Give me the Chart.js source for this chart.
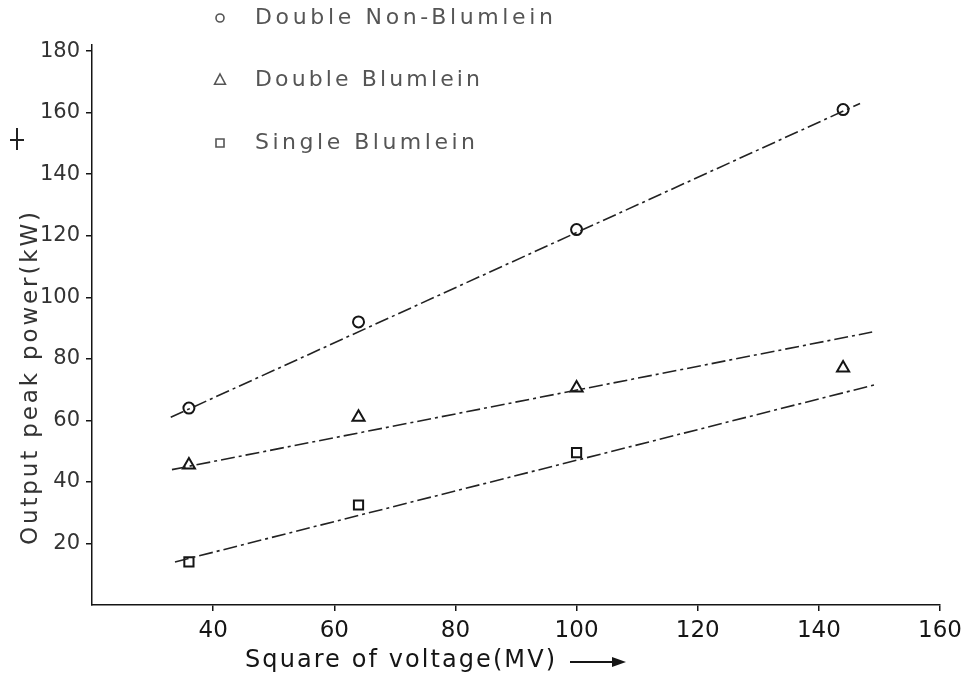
<!DOCTYPE html>
<html>
<head>
<meta charset="utf-8">
<script src="https://cdn.jsdelivr.net/npm/chart.js@4.4.1/dist/chart.umd.min.js"></script>
<style>
  html, body { margin: 0; padding: 0; background: #fff; }
  #wrap { width: 970px; height: 682px; position: relative; }
</style>
</head>
<body>
<div id="wrap"><canvas id="c"></canvas></div>
<script>
// ---- data ----
const seriesNames = ['Double Non-Blumlein', 'Double Blumlein', 'Single Blumlein'];
const voltageSq = [36, 64, 100, 144];
const doubleNonBlumlein = [64, 92, 122, 161];
const doubleBlumlein = [45.5, 61, 70.5, 77];
const voltageSqSingle = [36, 64, 100];
const singleBlumlein = [14, 32.5, 49.5];

// fitted (dash-dot) lines: end points
const fitNonX = [33, 146.8];
const fitNonY = [61, 163];
const fitDoubleX = [33.2, 148.8];
const fitDoubleY = [44, 88.7];
const fitSingleX = [33.7, 149.1];
const fitSingleY = [14, 71.5];

const xTicks = [40, 60, 80, 100, 120, 140, 160];
const yTicks = [20, 40, 60, 80, 100, 120, 140, 160, 180];

const xTitle = 'Square of voltage(MV)';
const yTitle = 'Output peak power(kW)';

// ---- helpers ----
const pts = (xs, ys) => xs.map((x, i) => ({ x: x, y: ys[i] }));
const INK = '#151515';
const FONT = 'DejaVu Sans';

function fitText(ctx, text, x, y, width) {
  ctx.letterSpacing = '0px';
  const w = ctx.measureText(text).width;
  const ls = Math.max(0, (width - w) / (text.length - 1));
  ctx.letterSpacing = ls + 'px';
  ctx.fillText(text, x, y);
  ctx.letterSpacing = '0px';
}

function drawSymbol(ctx, style, x, y, r) {
  ctx.beginPath();
  if (style === 'circle') {
    ctx.arc(x, y, r, 0, Math.PI * 2);
  } else if (style === 'triangle') {
    ctx.moveTo(x, y - r);
    ctx.lineTo(x + r * 0.9, y + r * 0.7);
    ctx.lineTo(x - r * 0.9, y + r * 0.7);
    ctx.closePath();
  } else {
    ctx.rect(x - r, y - r, 2 * r, 2 * r);
  }
  ctx.stroke();
}

const overlay = {
  id: 'overlay',
  afterDraw(chart) {
    const ctx = chart.ctx;
    ctx.save();
    // legend (drawn from the series datasets)
    const rows = [18, 80, 143];
    const widths = [298, 225, 220];
    const series = chart.data.datasets.filter(d => d.isSeries);
    ctx.font = '22px ' + FONT;
    ctx.textAlign = 'left';
    ctx.textBaseline = 'middle';
    series.forEach((d, i) => {
      ctx.strokeStyle = '#555';
      ctx.lineWidth = 1.6;
      drawSymbol(ctx, d.pointStyle, 220, rows[i], d.pointStyle === 'triangle' ? 6 : 4);
      ctx.fillStyle = '#555';
      fitText(ctx, d.label, 255, rows[i], widths[i]);
    });

    // x axis title with arrow
    ctx.fillStyle = INK;
    ctx.font = '24px ' + FONT;
    ctx.textBaseline = 'middle';
    fitText(ctx, xTitle, 245, 661, 310);
    ctx.strokeStyle = INK;
    ctx.lineWidth = 2;
    ctx.beginPath();
    ctx.moveTo(570, 662); ctx.lineTo(622, 662); ctx.stroke();
    ctx.beginPath();
    ctx.moveTo(626, 662); ctx.lineTo(612, 657); ctx.lineTo(612, 667); ctx.closePath();
    ctx.fillStyle = INK; ctx.fill();

    // y axis title (rotated)
    ctx.save();
    ctx.translate(31, 545);
    ctx.rotate(-Math.PI / 2);
    ctx.fillStyle = '#333';
    ctx.font = '23px ' + FONT;
    fitText(ctx, yTitle, 0, 0, 333);
    ctx.restore();
    // y arrow head
    ctx.strokeStyle = '#222';
    ctx.lineWidth = 2;
    ctx.beginPath();
    ctx.moveTo(17, 128); ctx.lineTo(17, 150); ctx.stroke();
    ctx.beginPath();
    ctx.moveTo(10, 140); ctx.lineTo(24, 140); ctx.stroke();
    ctx.restore();
  }
};

const fitStyle = {
  showLine: true, pointRadius: 0, borderColor: '#222', borderWidth: 1.6,
  borderDash: [14, 4, 3, 4], fill: false
};
const markerStyle = {
  showLine: false, isSeries: true, borderColor: INK, backgroundColor: 'rgba(0,0,0,0)',
  borderWidth: 2
};

new Chart(document.getElementById('c'), {
  type: 'scatter',
  data: {
    datasets: [
      Object.assign({ label: 'fit1', data: pts(fitNonX, fitNonY) }, fitStyle),
      Object.assign({ label: 'fit2', data: pts(fitDoubleX, fitDoubleY) }, fitStyle),
      Object.assign({ label: 'fit3', data: pts(fitSingleX, fitSingleY) }, fitStyle),
      Object.assign({ label: seriesNames[0], data: pts(voltageSq, doubleNonBlumlein),
        pointStyle: 'circle', pointRadius: 5.5 }, markerStyle),
      Object.assign({ label: seriesNames[1], data: pts(voltageSq, doubleBlumlein),
        pointStyle: 'triangle', pointRadius: 7 }, markerStyle),
      Object.assign({ label: seriesNames[2], data: pts(voltageSqSingle, singleBlumlein),
        pointStyle: 'rect', pointRadius: 6.5 }, markerStyle)
    ]
  },
  options: {
    responsive: true,
    maintainAspectRatio: false,
    animation: false,
    layout: { padding: { top: 45, right: 30, left: 0, bottom: 0 } },
    plugins: { legend: { display: false }, tooltip: { enabled: false } },
    scales: {
      x: {
        type: 'linear', min: 20, max: 160,
        afterBuildTicks: s => { s.ticks = xTicks.map(v => ({ value: v })); },
        afterFit: s => { s.height = 77; },
        grid: { display: true, drawOnChartArea: false, drawTicks: true, tickLength: 6, color: INK, lineWidth: 1.5 },
        border: { display: true, color: INK, width: 1.5 },
        ticks: { font: { family: FONT, size: 23 }, color: INK, padding: 6, maxRotation: 0, autoSkip: false }
      },
      y: {
        type: 'linear', min: 0, max: 182,
        afterBuildTicks: s => { s.ticks = yTicks.map(v => ({ value: v })); },
        afterFit: s => { s.width = 92; },
        grid: { display: true, drawOnChartArea: false, drawTicks: true, tickLength: 6, color: INK, lineWidth: 1.5 },
        border: { display: true, color: INK, width: 1.5 },
        ticks: { font: { family: FONT, size: 21 }, color: '#333', padding: 6, autoSkip: false }
      }
    }
  },
  plugins: [overlay]
});
</script>
</body>
</html>
